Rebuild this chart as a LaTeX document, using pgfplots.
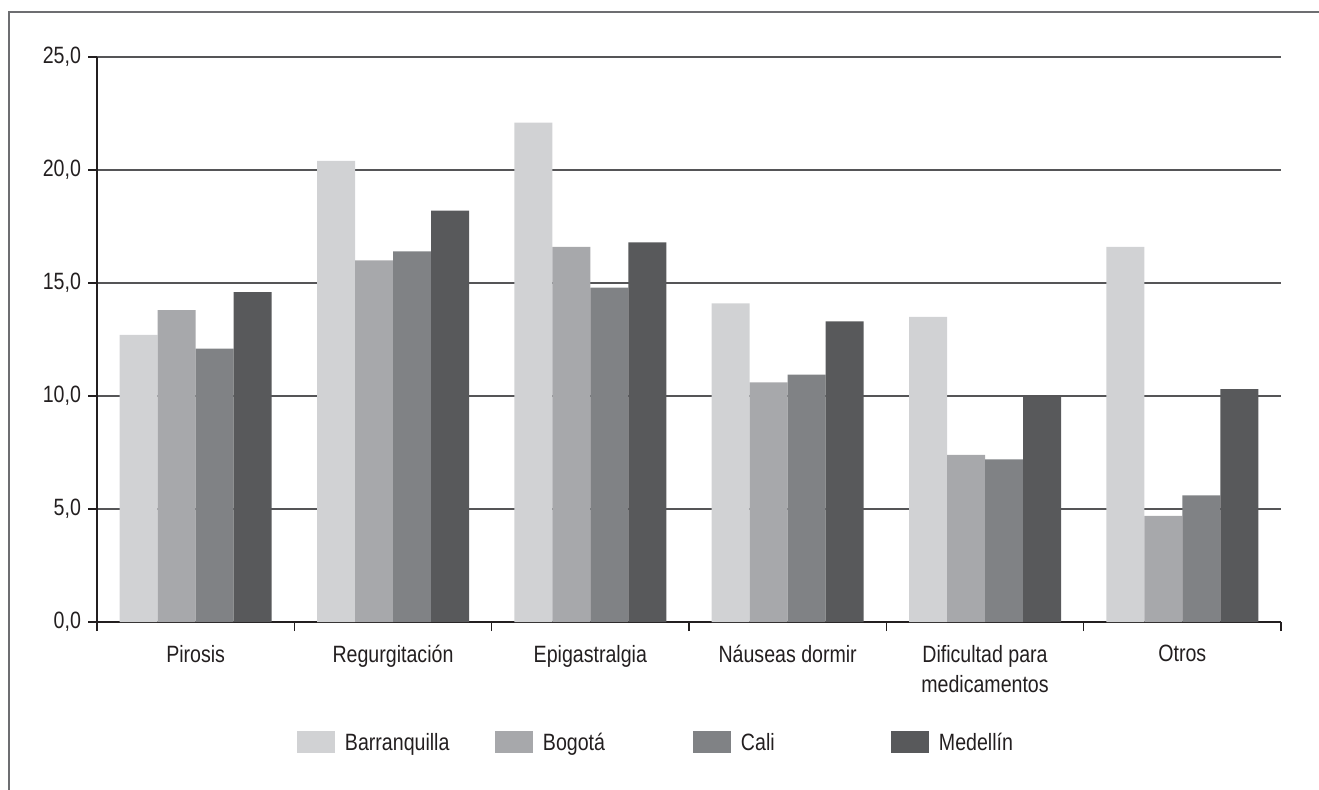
\documentclass[border=0pt]{standalone}
\usepackage{fontspec}
\setmainfont{Liberation Sans}[FakeStretch=0.83]
\usepackage{pgfplots}
\pgfplotsset{compat=1.18}

\definecolor{cBarr}{HTML}{D1D2D4}
\definecolor{cBog}{HTML}{A7A8AB}
\definecolor{cCali}{HTML}{808285}
\definecolor{cMed}{HTML}{58595B}
\definecolor{ink}{HTML}{231F20}
\definecolor{gridc}{HTML}{555557}
\definecolor{framec}{HTML}{6D6E71}

% square legend key, 19pt x 11pt, then 5pt gap
\pgfplotsset{barleg/.style={legend image code/.code={%
  \fill[##1] (0pt,-1.3pt) rectangle (19pt,9.7pt); \path (24pt,0pt);}}}

\begin{document}
\begin{tikzpicture}[font=\fontsize{11.8}{15}\selectfont]
\useasboundingbox (0,0) rectangle (659.5pt,-394.5pt);
\draw[framec, line width=0.6pt] (4.5pt,-400pt) -- (4.5pt,-6pt) -- (670pt,-6pt);
\begin{axis}[
  at={(48.5pt,-311pt)}, anchor=south west,
  scale only axis, width=592pt, height=282.5pt,
  ybar=0pt, bar width=19pt,
  xmin=-0.5, xmax=5.5, ymin=0, ymax=25,
  axis lines=left,
  axis line style={-, draw=ink, line width=0.6pt},
  tick align=outside, major tick length=4.5pt,
  tick style={draw=ink, line width=0.6pt},
  xtick={-0.5,0.5,...,5.5}, x tick label as interval,
  xticklabels={Pirosis, Regurgitación, Epigastralgia, Náuseas dormir,
    {Dificultad para\\medicamentos}, Otros},
  xticklabel style={align=center, text=ink, yshift=-3.5pt},
  ytick={0,5,...,25},
  /pgf/number format/assume math mode=true,
  yticklabel style={text=ink, /pgf/number format/.cd, fixed, fixed zerofill,
    precision=1, use comma, assume math mode=true},
  ymajorgrids, grid style={draw=gridc, line width=0.6pt},
  legend columns=4,
  legend style={at={(0.1689,-0.2124)}, anchor=west, draw=none, fill=none,
    inner sep=0pt, outer sep=0pt, column sep=0pt,
    nodes={anchor=base west, inner sep=0pt, text width=75pt, text=ink}},
]
\addplot[fill=cBarr, draw=none, barleg] coordinates {(0,12.7) (1,20.4) (2,22.1) (3,14.1) (4,13.5) (5,16.6)};
\addlegendentry{Barranquilla}
\addplot[fill=cBog, draw=none, barleg] coordinates {(0,13.8) (1,16.0) (2,16.6) (3,10.6) (4,7.4) (5,4.7)};
\addlegendentry{Bogotá}
\addplot[fill=cCali, draw=none, barleg] coordinates {(0,12.1) (1,16.4) (2,14.8) (3,10.95) (4,7.2) (5,5.6)};
\addlegendentry{Cali}
\addplot[fill=cMed, draw=none, barleg] coordinates {(0,14.6) (1,18.2) (2,16.8) (3,13.3) (4,9.95) (5,10.3)};
\addlegendentry{Medellín}
\end{axis}
\end{tikzpicture}
\end{document}
